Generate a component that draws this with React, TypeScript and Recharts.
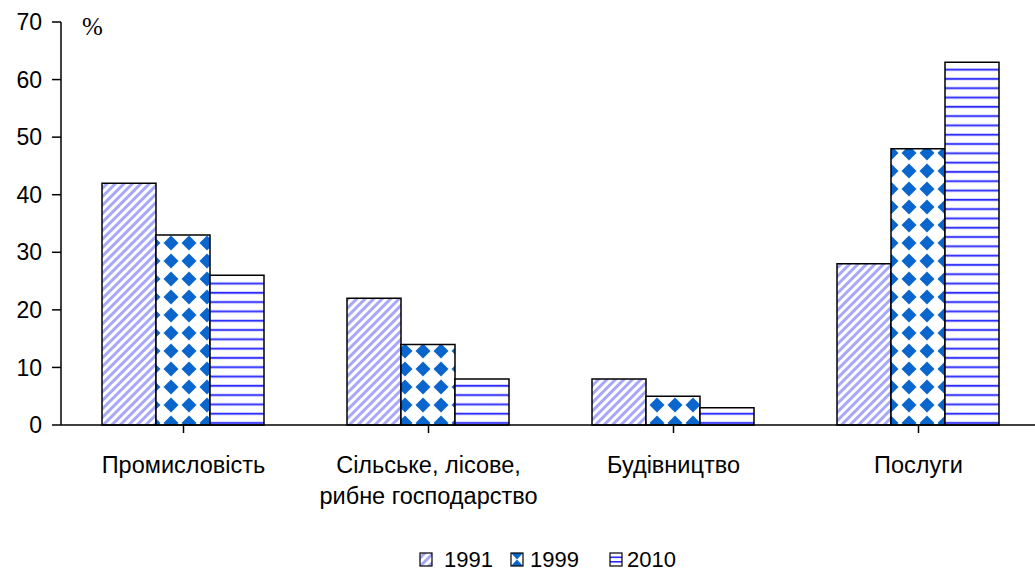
import React from 'react';
import { BarChart, Bar, XAxis, YAxis, Customized } from 'recharts';

const categories = ['Промисловість', 'Сільське, лісове,\nрибне господарство', 'Будівництво', 'Послуги'];
const values1991 = [42, 22, 8, 28];
const values1999 = [33, 14, 5, 48];
const values2010 = [26, 8, 3, 63];
const yTicks = [0, 10, 20, 30, 40, 50, 60, 70];
const seriesNames = ['1991', '1999', '2010'];

const data = categories.map((name, i) => ({
  name,
  y1991: values1991[i],
  y1999: values1999[i],
  y2010: values2010[i],
}));

const FONT = '"Liberation Sans", Arial, sans-serif';

const Patterns = () => (
  <defs>
    <pattern id="pDiag" patternUnits="userSpaceOnUse" width="6" height="6" patternTransform="rotate(45)">
      <rect width="6" height="6" fill="#ffffff" />
      <rect width="3" height="6" fill="#a8a8f8" />
    </pattern>
    <pattern id="pDiamond" patternUnits="userSpaceOnUse" width="18" height="18">
      <rect width="18" height="18" fill="#ffffff" />
      <polygon points="9,1.5 16.5,9 9,16.5 1.5,9" fill="#0a66cc" />
    </pattern>
    <pattern id="pHoriz" patternUnits="userSpaceOnUse" width="9.3" height="9.3">
      <rect width="9.3" height="9.3" fill="#ffffff" />
      <rect y="3" width="9.3" height="3" fill="#c8c8ff" />
      <rect y="3.7" width="9.3" height="1.6" fill="#2a2aff" />
    </pattern>
  </defs>
);

const CategoryTick = (props: any) => {
  const { x, y, payload } = props;
  const lines = String(payload.value).split('\n');
  return (
    <g transform={`translate(${x},${y})`}>
      {lines.map((l, i) => (
        <text key={i} x={0} y={i * 31} dy={38} textAnchor="middle" fontFamily={FONT} fontSize={23.5} fill="#000">
          {l}
        </text>
      ))}
    </g>
  );
};

const LegendIcon = ({ i, x, y }: { i: number; x: number; y: number }) => {
  const w = 12;
  const h = 13;
  if (i === 0) {
    return <rect x={x} y={y} width={w} height={h} fill="url(#pDiag)" stroke="#000" strokeWidth={1.2} />;
  }
  if (i === 1) {
    return (
      <g>
        <rect x={x} y={y} width={w} height={h} fill="#fff" />
        <polygon points={`${x},${y} ${x + w},${y} ${x + w / 2},${y + h / 2}`} fill="#0a66cc" />
        <polygon points={`${x},${y + h} ${x + w},${y + h} ${x + w / 2},${y + h / 2}`} fill="#0a66cc" />
        <rect x={x} y={y} width={w} height={h} fill="none" stroke="#000" strokeWidth={1.2} />
      </g>
    );
  }
  return (
    <g>
      <rect x={x} y={y} width={w} height={h} fill="#fff" />
      <rect x={x} y={y + 3.5} width={w} height={1.6} fill="#2a2aff" />
      <rect x={x} y={y + 8} width={w} height={1.6} fill="#2a2aff" />
      <rect x={x} y={y} width={w} height={h} fill="none" stroke="#000" strokeWidth={1.2} />
    </g>
  );
};

const legendIconX = [420, 511, 610];
const legendTextX = [444, 530, 627];

export default function App() {
  return (
    <div style={{ position: 'absolute', left: 0, top: 0, width: 1035, height: 573, overflow: 'hidden', background: '#fff' }}>
      <style>{`body{margin:0;overflow:hidden}`}</style>
      <BarChart
        width={1045}
        height={573}
        data={data}
        margin={{ top: 22, right: 4, bottom: 118, left: 0 }}
        barCategoryGap={41}
        barGap={0}
      >
        <Patterns />
        <XAxis
          dataKey="name"
          interval={0}
          tick={<CategoryTick />}
          tickLine={{ stroke: '#000', strokeWidth: 1.5 }}
          axisLine={{ stroke: '#000', strokeWidth: 1.5 }}
          tickSize={8}
        />
        <YAxis
          width={61}
          domain={[0, 70]}
          ticks={yTicks}
          interval={0}
          tick={{ fontFamily: FONT, fontSize: 23, fill: '#000' }}
          tickLine={{ stroke: '#000', strokeWidth: 1.5 }}
          axisLine={{ stroke: '#000', strokeWidth: 1.5 }}
          tickSize={9}
          tickMargin={10}
        />
        <Bar dataKey="y1991" fill="url(#pDiag)" stroke="#000" strokeWidth={1.5} isAnimationActive={false} />
        <Bar dataKey="y1999" fill="url(#pDiamond)" stroke="#000" strokeWidth={1.5} isAnimationActive={false} />
        <Bar dataKey="y2010" fill="url(#pHoriz)" stroke="#000" strokeWidth={1.5} isAnimationActive={false} />
        <Customized
          component={() => (
            <g>
              <text x={82} y={35} fontFamily='"Liberation Serif", "Times New Roman", serif' fontSize={25} fill="#000">
                %
              </text>
              {seriesNames.map((s, i) => (
                <g key={s}>
                  <LegendIcon i={i} x={legendIconX[i]} y={553} />
                  <text x={legendTextX[i]} y={567} fontFamily={FONT} fontSize={22} fill="#000">
                    {s}
                  </text>
                </g>
              ))}
            </g>
          )}
        />
      </BarChart>
    </div>
  );
}
